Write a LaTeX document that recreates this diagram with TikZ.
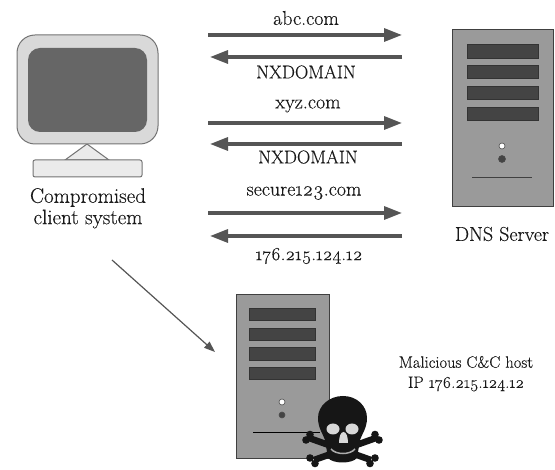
\documentclass[tikz,border=0pt]{standalone}
\usepackage{fontspec}
\setmainfont{Latin Modern Roman}[Numbers=OldStyle]
\usetikzlibrary{arrows.meta}
\definecolor{arrowgrey}{HTML}{555555}
\definecolor{casegrey}{HTML}{9A9A9A}
\definecolor{bargrey}{HTML}{444444}
\definecolor{skull}{HTML}{161616}
\definecolor{skulllight}{HTML}{D8D8D8}
\tikzset{
  x=1pt,y=-1pt,
  lbl/.style={font=\fontsize{20}{24}\selectfont\addfontfeature{FakeBold=0.25},text=black!90,inner sep=0pt,anchor=center},
  lbla/.style={lbl,font=\fontsize{21}{24}\selectfont\addfontfeature{FakeBold=0.25}},
  lblb/.style={lbl,font=\fontsize{18.5}{22}\selectfont\addfontfeature{FakeBold=0.25}},
  lblc/.style={lbl,font=\fontsize{16.5}{20}\selectfont\addfontfeature{FakeBold=0.25}},
  flow/.style={draw=arrowgrey,line width=3.2pt,-{Triangle[length=18pt,width=13pt]}},
  thinflow/.style={draw=arrowgrey,line width=1.2pt,-{Triangle[length=11pt,width=8pt]}},
  case/.style={draw=black!75,fill=casegrey,line width=0.8pt},
  bar/.style={draw=black!80,fill=bargrey,line width=0.7pt},
  ledon/.style={draw=black!70,fill=white,line width=0.6pt},
  ledoff/.style={draw=black!70,fill=bargrey,line width=0.6pt},
  mon/.style={draw=black!55,line width=1pt},
}
\begin{document}
\begin{tikzpicture}
\useasboundingbox (0,0) rectangle (555,470);
% monitor
\filldraw[mon,fill=black!8] (65,160) -- (87,144) -- (109,160) -- cycle;
\filldraw[mon,fill=black!8,rounded corners=2pt] (33,160) rectangle (142,177);
\filldraw[mon,fill=black!15,rounded corners=18pt] (17,35) rectangle (158,144);
\fill[black!60,rounded corners=12pt] (28,48) rectangle (147,132);
\node[lbla] (cl1) at (88,197.5) {Compromised};
\node[lbla] (cl2) at (88,219) {client system};
% DNS server
\filldraw[case] (452,29) rectangle (553,206);
\filldraw[bar] (467,44) rectangle (538,58);
\filldraw[bar] (467,65) rectangle (538,78);
\filldraw[bar] (467,86) rectangle (538,99);
\filldraw[bar] (467,107) rectangle (538,120);
\filldraw[ledon] (502,146) circle (3);
\filldraw[ledoff] (502,159) circle (3.5);
\draw[black!75,line width=0.8pt] (472,177) -- (532,177);
\node[lbl] (dns) at (502,234) {DNS Server};
% malicious host
\filldraw[case] (236,294) rectangle (329,458);
\filldraw[bar] (249,308) rectangle (315,320);
\filldraw[bar] (249,328) rectangle (315,340);
\filldraw[bar] (249,347) rectangle (315,360);
\filldraw[bar] (249,367) rectangle (315,379);
\filldraw[ledon] (282,402) circle (3);
\filldraw[ledoff] (282,415) circle (3);
\draw[black,line width=0.8pt] (253,432) -- (320,432);
% skull: crossbones
\draw[skull,line width=6.5pt] (309,438) -- (371,460);
\draw[skull,line width=6.5pt] (376,438) -- (314,460);
\fill[skull] (306,440) circle (3.8) (310,434.5) circle (3.8);
\fill[skull] (375,458) circle (3.8) (370,463.5) circle (3.8);
\fill[skull] (379,440) circle (3.8) (375,434.5) circle (3.8);
\fill[skull] (310,458) circle (3.8) (315,463.5) circle (3.8);
% skull: head
\fill[skull] (343,396) .. controls (357,396) and (367,406) .. (367,418)
  .. controls (367,428) and (362,434) .. (360,440)
  -- (357,458) .. controls (352,464) and (333,464) .. (328,458)
  -- (325,440) .. controls (323,434) and (318,428) .. (318,418)
  .. controls (318,406) and (329,396) .. (343,396) -- cycle;
\fill[skulllight] (333,429) ellipse (6.5 and 5.5);
\fill[skulllight] (352,429) ellipse (6.5 and 5.5);
\fill[skulllight] (339,443) .. controls (339,436) and (341,432) .. (343.5,432)
  .. controls (346,432) and (348,436) .. (348,443) -- cycle;
\draw[skulllight!80!black,line width=1.5pt] (331,449) .. controls (336,455) and (350,455) .. (355,449);
% arrows
\coordinate (a1s) at (208,35);  \coordinate (a1e) at (402,35);
\coordinate (a2s) at (402,57);  \coordinate (a2e) at (210,57);
\coordinate (a3s) at (208,123); \coordinate (a3e) at (402,123);
\coordinate (a4s) at (402,144); \coordinate (a4e) at (210,144);
\coordinate (a5s) at (208,213); \coordinate (a5e) at (402,213);
\coordinate (a6s) at (402,236); \coordinate (a6e) at (210,236);
\coordinate (d1) at (112,260);  \coordinate (d2) at (215,352);
\draw[flow] (a1s) -- (a1e);
\draw[flow] (a2s) -- (a2e);
\draw[flow] (a3s) -- (a3e);
\draw[flow] (a4s) -- (a4e);
\draw[flow] (a5s) -- (a5e);
\draw[flow] (a6s) -- (a6e);
\draw[thinflow] (d1) -- (d2);
% labels
\node[lbl] (l1) at (306,18) {abc.com};
\node[lblb] (l2) at (306,72) {NXDOMAIN};
\node[lbl] (l3) at (308,106) {xyz.com};
\node[lblb] (l4) at (308,157) {NXDOMAIN};
\node[lbl] (l5) at (304,193) {secure123.com};
\node[lblb] (l6) at (309,256) {176.215.124.12};
\node[lblc] (m1) at (466,362) {Malicious C\&C host};
\node[lblc] (m2) at (466,384) {IP 176.215.124.12};
\end{tikzpicture}
\end{document}
